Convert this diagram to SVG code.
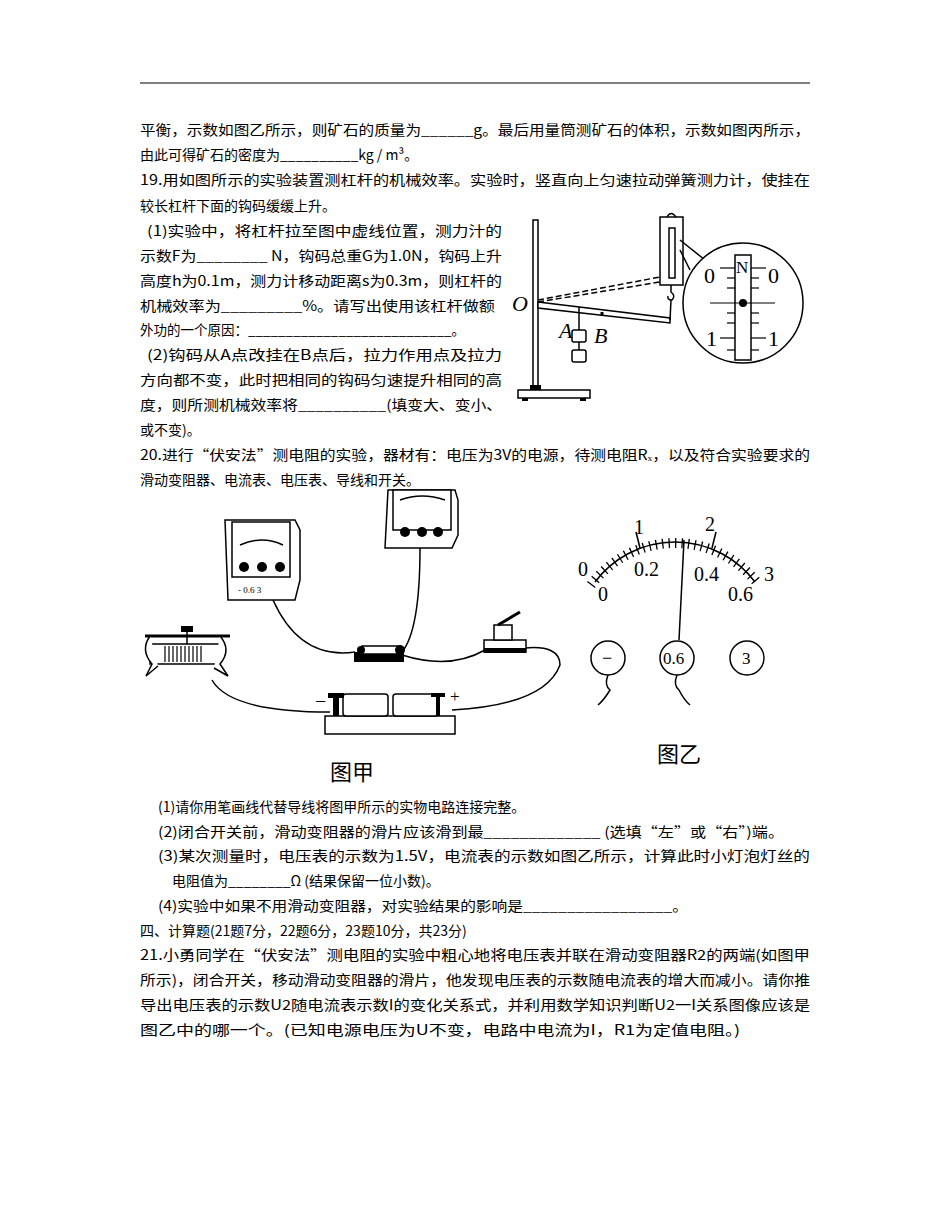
<svg xmlns="http://www.w3.org/2000/svg" width="950" height="1230" viewBox="0 0 950 1230" font-size="14">
<style>
text{font-family:"Noto Sans CJK SC","Liberation Serif",serif;fill:#000}
.f{font-family:"Liberation Serif",serif}
.s{stroke:#000;fill:none;stroke-width:1.5}
.w{stroke:#000;fill:#fff;stroke-width:1.5}
.b{fill:#000}
</style>
<rect width="950" height="1230" fill="#fff"/>
<line x1="140" y1="83" x2="810" y2="83" stroke="#000" stroke-width="1.2"/>
<g id="text">
<text x="140" y="135" textLength="670" lengthAdjust="spacingAndGlyphs">平衡，示数如图乙所示，则矿石的质量为______g。最后用量筒测矿石的体积，示数如图丙所示，</text>
<text x="140" y="160">由此可得矿石的密度为__________kg / m³。</text>
<text x="140" y="185" textLength="670" lengthAdjust="spacingAndGlyphs">19.用如图所示的实验装置测杠杆的机械效率。实验时，竖直向上匀速拉动弹簧测力计，使挂在</text>
<text x="140" y="211">较长杠杆下面的钩码缓缓上升。</text>
<text x="147" y="236" textLength="355" lengthAdjust="spacingAndGlyphs">(1)实验中，将杠杆拉至图中虚线位置，测力汁的</text>
<text x="140" y="261" textLength="362" lengthAdjust="spacingAndGlyphs">示数F为________ N，钩码总重G为1.0N，钩码上升</text>
<text x="140" y="286" textLength="362" lengthAdjust="spacingAndGlyphs">高度h为0.1m，测力计移动距离s为0.3m，则杠杆的</text>
<text x="140" y="311" textLength="355" lengthAdjust="spacingAndGlyphs">机械效率为_________%。请写出使用该杠杆做额</text>
<text x="140" y="335" textLength="325" lengthAdjust="spacingAndGlyphs">外功的一个原因：___________________________。</text>
<text x="147" y="360" textLength="355" lengthAdjust="spacingAndGlyphs">(2)钩码从A点改挂在B点后，拉力作用点及拉力</text>
<text x="140" y="385" textLength="362" lengthAdjust="spacingAndGlyphs">方向都不变，此时把相同的钩码匀速提升相同的高</text>
<text x="140" y="410" textLength="362" lengthAdjust="spacingAndGlyphs">度，则所测机械效率将__________(填变大、变小、</text>
<text x="140" y="435">或不变)。</text>
<text x="140" y="460" textLength="670" lengthAdjust="spacingAndGlyphs">20.进行“伏安法”测电阻的实验，器材有：电压为3V的电源，待测电阻Rₓ，以及符合实验要求的</text>
<text x="140" y="485">滑动变阻器、电流表、电压表、导线和开关。</text>
<text x="158" y="812">(1)请你用笔画线代替导线将图甲所示的实物电路连接完整。</text>
<text x="158" y="837" textLength="626" lengthAdjust="spacingAndGlyphs">(2)闭合开关前，滑动变阻器的滑片应该滑到最_____________ (选填“左”或“右”)端。</text>
<text x="158" y="861" textLength="652" lengthAdjust="spacingAndGlyphs">(3)某次测量时，电压表的示数为1.5V，电流表的示数如图乙所示，计算此时小灯泡灯丝的</text>
<text x="172" y="886">电阻值为________Ω (结果保留一位小数)。</text>
<text x="158" y="911" textLength="530" lengthAdjust="spacingAndGlyphs">(4)实验中如果不用滑动变阻器，对实验结果的影响是_________________。</text>
<text x="140" y="936">四、计算题(21题7分，22题6分，23题10分，共23分)</text>
<text x="140" y="960" textLength="670" lengthAdjust="spacingAndGlyphs">21.小勇同学在“伏安法”测电阻的实验中粗心地将电压表并联在滑动变阻器R2的两端(如图甲</text>
<text x="140" y="985" textLength="670" lengthAdjust="spacingAndGlyphs">所示)，闭合开关，移动滑动变阻器的滑片，他发现电压表的示数随电流表的增大而减小。请你推</text>
<text x="140" y="1010" textLength="670" lengthAdjust="spacingAndGlyphs">导出电压表的示数U2随电流表示数I的变化关系式，并利用数学知识判断U2一I关系图像应该是</text>
<text x="140" y="1035" textLength="600" lengthAdjust="spacingAndGlyphs">图乙中的哪一个。(已知电源电压为U不变，电路中电流为I，R1为定值电阻。)</text>
</g>
<g id="lever">
<rect x="533" y="220" width="5" height="167" class="w"/>
<rect x="530" y="385" width="11" height="5" class="b"/>
<rect x="518" y="390" width="72" height="8" class="w"/>
<rect x="522" y="398" width="6" height="3" class="b"/><rect x="580" y="398" width="6" height="3" class="b"/>
<text x="512" y="311" class="f" font-size="22" font-style="italic">O</text>
<polygon points="538,302 670,318 670,323 538,308" class="w"/>
<line x1="538" y1="302" x2="660" y2="282" class="s" stroke-dasharray="6,3"/>
<line x1="538" y1="300" x2="660" y2="277" class="s" stroke-dasharray="6,3"/>
<rect x="660" y="217" width="23" height="68" class="w"/>
<rect x="669" y="228" width="6" height="50" class="w"/>
<path d="M667,217 Q671,210 676,217" class="s"/>
<path d="M671,285 L671,292 Q676,296 672,300 Q667,300 668,296" class="s"/>
<line x1="671" y1="300" x2="670" y2="320" class="s"/>
<line x1="579" y1="307" x2="579" y2="330" class="s"/>
<rect x="572" y="330" width="14" height="12" rx="2" class="w"/>
<line x1="579" y1="342" x2="579" y2="350" class="s"/>
<rect x="572" y="350" width="14" height="12" rx="2" class="w"/>
<line x1="602" y1="312" x2="602" y2="316" stroke="#000" stroke-width="3"/>
<text x="559" y="338" class="f" font-size="22" font-style="italic">A</text>
<text x="594" y="343" class="f" font-size="22" font-style="italic">B</text>
<line x1="680" y1="240" x2="705" y2="260" class="s"/>
<line x1="680" y1="250" x2="690" y2="270" class="s"/>
<circle cx="743" cy="303" r="60" class="w"/>
<rect x="735" y="255" width="16" height="105" class="w"/>
<g stroke="#000" stroke-width="1.2">
<line x1="720" y1="268" x2="735" y2="268"/><line x1="751" y1="268" x2="766" y2="268"/>
<line x1="727" y1="278" x2="735" y2="278"/><line x1="751" y1="278" x2="759" y2="278"/>
<line x1="727" y1="288" x2="735" y2="288"/><line x1="751" y1="288" x2="759" y2="288"/>
<line x1="710" y1="303" x2="775" y2="303"/>
<line x1="727" y1="313" x2="735" y2="313"/><line x1="751" y1="313" x2="759" y2="313"/>
<line x1="727" y1="323" x2="735" y2="323"/><line x1="751" y1="323" x2="759" y2="323"/>
<line x1="720" y1="338" x2="735" y2="338"/><line x1="751" y1="338" x2="766" y2="338"/>
<line x1="727" y1="350" x2="735" y2="350"/><line x1="751" y1="350" x2="759" y2="350"/>
</g>
<circle cx="743" cy="303" r="4" class="b"/>
<text x="704" y="283" class="f" font-size="22">0</text>
<text x="736" y="273" class="f" font-size="17">N</text>
<text x="768" y="283" class="f" font-size="22">0</text>
<text x="706" y="346" class="f" font-size="22">1</text>
<text x="768" y="346" class="f" font-size="22">1</text>
</g>
<g id="connectors" class="s" stroke-width="1.2">
<path d="M273,600 Q300,660 355,652"/>
<path d="M420,548 Q420,630 402,652"/>
<path d="M402,655 Q450,670 485,650"/>
<path d="M525,648 Q560,645 560,665 Q545,705 452,710"/>
<path d="M212,680 Q230,712 330,712"/>
</g>
<g id="ammeter">
<polygon points="225,520 295,520 300,530 300,580 295,600 228,600" class="w"/>
<rect x="232" y="522" width="58" height="55" class="w"/>
<path d="M240,545 Q262,535 283,545" class="s"/>
<circle cx="244" cy="567" r="5" class="b"/><circle cx="262" cy="567" r="5" class="b"/><circle cx="280" cy="567" r="5" class="b"/>
<text x="238" y="593" class="f" font-size="9">- 0.6  3</text>
</g>
<g id="voltmeter">
<polygon points="388,490 455,490 458,500 458,535 452,548 385,548" class="w"/>
<rect x="393" y="490" width="58" height="40" class="w"/>
<path d="M400,500 Q422,492 445,500" class="s"/>
<circle cx="405" cy="532" r="5" class="b"/><circle cx="422" cy="532" r="5" class="b"/><circle cx="438" cy="532" r="5" class="b"/>
</g>
<g id="resistor">
<rect x="354" y="652" width="50" height="10" class="b"/>
<rect x="362" y="646" width="36" height="8" class="w"/>
<circle cx="361" cy="650" r="4" class="b"/><circle cx="400" cy="650" r="5" class="b"/>
</g>
<g id="switch">
<rect x="484" y="640" width="42" height="12" class="w"/>
<rect x="484" y="648" width="42" height="5" class="b"/>
<rect x="494" y="625" width="18" height="15" class="w"/>
<line x1="498" y1="625" x2="520" y2="612" stroke="#000" stroke-width="3"/>
</g>
<g id="rheostat">
<rect x="150" y="644" width="70" height="20" class="w"/>
<g stroke="#000" stroke-width="1.2">
<line x1="165" y1="646" x2="165" y2="662"/><line x1="169" y1="646" x2="169" y2="662"/><line x1="173" y1="646" x2="173" y2="662"/><line x1="177" y1="646" x2="177" y2="662"/><line x1="181" y1="646" x2="181" y2="662"/><line x1="185" y1="646" x2="185" y2="662"/><line x1="189" y1="646" x2="189" y2="662"/><line x1="193" y1="646" x2="193" y2="662"/><line x1="197" y1="646" x2="197" y2="662"/><line x1="201" y1="646" x2="201" y2="662"/>
</g>
<line x1="145" y1="636" x2="230" y2="636" stroke="#000" stroke-width="3"/>
<rect x="181" y="626" width="12" height="6" class="b"/>
<line x1="187" y1="632" x2="187" y2="644" class="s"/>
<path d="M150,636 Q140,650 152,664 L146,676 L158,666" class="w"/>
<path d="M220,636 Q232,650 220,664 L228,676 L214,668" class="w"/>
</g>
<g id="battery">
<rect x="325" y="716" width="130" height="18" class="w"/>
<rect x="343" y="694" width="45" height="22" rx="3" class="w"/>
<rect x="393" y="694" width="45" height="22" rx="3" class="w"/>
<rect x="333" y="696" width="6" height="20" class="b"/><rect x="328" y="693" width="16" height="5" class="b"/>
<rect x="436" y="696" width="4" height="20" class="b"/><rect x="431" y="693" width="14" height="4" class="b"/>
<text x="315" y="708" class="f" font-size="20">−</text>
<text x="450" y="702" class="f" font-size="17">+</text>
</g>
<g id="dial">
<path d="M595,582 A100,100 0 0 1 755,582" class="s"/>
<path d="M591,585 A105,105 0 0 1 759,585" fill="none" stroke="#000" stroke-width="10" stroke-dasharray="1.3 5.19"/>
<g stroke="#000" stroke-width="1.5">
<line x1="640" y1="548" x2="636" y2="532"/><line x1="712" y1="548" x2="716" y2="532"/>
</g>
<line x1="684" y1="540" x2="679" y2="640" class="s" stroke-width="1.2"/>
<text x="578" y="576" class="f" font-size="20">0</text>
<text x="634" y="534" class="f" font-size="20">1</text>
<text x="705" y="531" class="f" font-size="20">2</text>
<text x="764" y="581" class="f" font-size="20">3</text>
<text x="634" y="576" class="f" font-size="20">0.2</text>
<text x="694" y="581" class="f" font-size="20">0.4</text>
<text x="598" y="601" class="f" font-size="20">0</text>
<text x="728" y="601" class="f" font-size="20">0.6</text>
<circle cx="608" cy="658" r="17" class="w"/><text x="602" y="664" class="f" font-size="18">−</text>
<circle cx="677" cy="658" r="17" class="w"/><text x="663" y="664" class="f" font-size="17">0.6</text>
<circle cx="747" cy="658" r="17" class="w"/><text x="742" y="664" class="f" font-size="17">3</text>
<path d="M608,675 Q604,685 610,690 Q604,700 598,705" class="s"/>
<path d="M677,675 Q673,685 679,690 Q684,700 690,705" class="s"/>
<text x="657" y="762" font-size="22">图乙</text>
<text x="330" y="780" font-size="22">图甲</text>
</g>
</svg>
